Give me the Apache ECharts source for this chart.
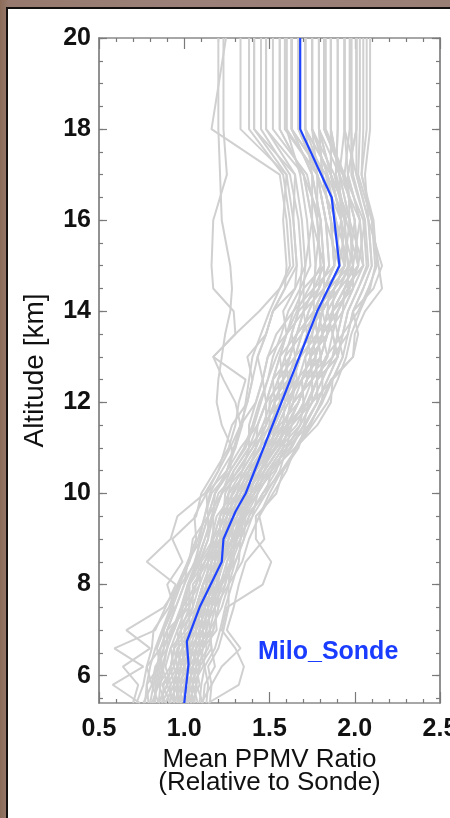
<!DOCTYPE html>
<html>
<head>
<meta charset="utf-8">
<script src="https://cdn.jsdelivr.net/npm/echarts@6/dist/echarts.min.js"></script>
<style>
html,body{margin:0;padding:0;width:450px;height:818px;overflow:hidden;}
body{background:linear-gradient(90deg,#8c6b58 0px,#977a6d 8px,#9b8178 40%,#9a7f75 100%);}
#panel{position:absolute;left:6px;top:7px;width:470px;height:840px;background:#fff;border-left:2px solid #141010;border-top:2px solid #141010;}
#chart{position:absolute;left:0;top:0;width:450px;height:818px;}
</style>
</head>
<body>
<div id="panel"></div>
<div id="chart"></div>
<script>
// Altitude levels (km) of the individual profiles
const ALT = [5.4,5.8,6.2,6.6,7.0,7.5,8.0,8.5,9.0,9.5,10.0,10.5,11.0,11.5,12.0,12.5,13.0,13.5,14.0,14.5,15.0,16.0,17.0,18.0,20.0];

// Individual profiles: mean PPMV ratio at each ALT level
const P01 = [.98,1.03,1.00,.99,1.07,1.10,1.19,1.20,1.24,1.33,1.35,1.42,1.47,1.53,1.59,1.64,1.68,1.78,1.76,1.82,1.94,1.86,1.81,1.71,1.71];
const P02 = [.89,.85,.92,.99,.98,1.03,1.03,1.12,1.21,1.21,1.26,1.29,1.38,1.48,1.53,1.52,1.62,1.66,1.70,1.70,1.82,1.80,1.70,1.56,1.56];
const P03 = [1.06,1.07,1.05,1.11,1.19,1.18,1.22,1.27,1.28,1.36,1.43,1.47,1.56,1.58,1.64,1.75,1.80,1.84,1.87,1.99,1.99,1.97,1.91,1.86,1.86];
const P04 = [.94,.98,.96,1.03,1.03,1.07,1.11,1.20,1.21,1.25,1.31,1.38,1.51,1.53,1.53,1.58,1.62,1.66,1.76,1.82,1.88,1.92,1.86,1.79,1.79];
const P05 = [1.02,.98,1.05,1.07,1.07,1.14,1.19,1.23,1.31,1.33,1.39,1.51,1.60,1.68,1.70,1.75,1.74,1.78,1.81,1.88,1.94,1.97,1.86,1.79,1.79];
const P06 = [.81,.85,.87,.86,.94,.99,1.07,1.09,1.14,1.17,1.18,1.25,1.33,1.43,1.48,1.46,1.49,1.54,1.64,1.70,1.71,1.69,1.65,1.41,1.41];
const P07 = [1.11,1.12,1.18,1.16,1.15,1.22,1.26,1.30,1.35,1.36,1.48,1.56,1.60,1.68,1.75,1.87,1.93,1.90,1.93,1.99,2.05,2.03,1.96,2.01,2.01];
const P08 = [.98,.94,1.00,1.07,1.11,1.10,1.15,1.16,1.24,1.29,1.39,1.47,1.56,1.63,1.75,1.75,1.74,1.84,1.81,1.88,1.94,1.92,1.91,1.86,1.86];
const P09 = [.89,.94,.92,.94,1.03,1.07,1.15,1.16,1.21,1.25,1.26,1.38,1.47,1.58,1.64,1.69,1.74,1.72,1.81,1.88,1.99,1.92,1.86,1.71,1.71];
const P10 = [1.02,1.07,1.09,1.07,1.11,1.18,1.19,1.20,1.28,1.33,1.43,1.51,1.65,1.73,1.81,1.81,1.87,1.96,1.99,2.05,2.10,2.08,2.01,1.94,1.94];
const P11 = [.76,.81,.78,.86,.90,.95,1.00,1.02,1.10,1.14,1.13,1.25,1.29,1.33,1.42,1.46,1.43,1.48,1.52,1.65,1.66,1.64,1.65,1.48,1.48];
const P12 = [1.02,1.03,1.09,1.03,1.11,1.14,1.15,1.23,1.28,1.29,1.35,1.42,1.51,1.58,1.59,1.69,1.80,1.78,1.87,1.94,1.99,2.03,1.91,1.79,1.79];
const P13 = [.94,.90,.92,.94,.98,.99,1.07,1.12,1.17,1.25,1.31,1.34,1.42,1.48,1.48,1.58,1.56,1.60,1.64,1.76,1.82,1.75,1.75,1.63,1.63];
const P14 = [1.11,1.07,1.09,1.16,1.15,1.18,1.26,1.27,1.31,1.40,1.48,1.51,1.60,1.63,1.75,1.81,1.87,1.90,1.93,1.94,2.05,2.03,1.96,1.94,1.94];
const P15 = [.98,.94,.96,1.03,1.07,1.07,1.11,1.16,1.17,1.21,1.31,1.42,1.51,1.58,1.64,1.64,1.68,1.78,1.76,1.76,1.88,1.86,1.81,1.63,1.63];
const P16 = [.85,.90,.87,.90,.90,1.03,1.03,1.09,1.17,1.17,1.22,1.34,1.42,1.43,1.48,1.52,1.56,1.66,1.70,1.76,1.77,1.75,1.70,1.56,1.56];
const P17 = [.98,.98,1.05,1.11,1.15,1.14,1.22,1.27,1.31,1.36,1.39,1.47,1.56,1.63,1.70,1.69,1.74,1.84,1.87,1.94,2.05,1.97,1.91,1.94,1.94];
const P18 = [.94,.98,1.00,1.03,1.03,1.10,1.15,1.20,1.24,1.29,1.35,1.38,1.47,1.53,1.53,1.64,1.68,1.72,1.76,1.88,1.94,1.92,1.81,1.79,1.79];
const P19 = [1.15,1.16,1.14,1.20,1.23,1.26,1.26,1.34,1.38,1.44,1.52,1.60,1.65,1.78,1.86,1.87,1.99,2.02,1.99,2.11,2.16,2.08,2.06,2.09,2.09];
const P20 = [.72,.76,.78,.81,.82,.91,.96,1.02,1.07,1.06,1.13,1.20,1.24,1.28,1.37,1.40,1.37,1.48,1.52,1.59,1.60,1.58,1.60,1.33,1.33];
const P21 = [.98,.98,1.00,.99,1.07,1.10,1.11,1.16,1.24,1.25,1.35,1.42,1.47,1.53,1.59,1.69,1.74,1.78,1.81,1.82,1.82,1.80,1.75,1.63,1.63];
const P22 = [1.06,1.03,1.05,1.07,1.11,1.10,1.19,1.23,1.28,1.29,1.35,1.47,1.56,1.68,1.75,1.81,1.80,1.84,1.93,1.99,1.99,1.97,1.96,2.01,2.01];
const P23 = [1.02,.98,1.05,1.07,1.15,1.14,1.15,1.20,1.21,1.29,1.39,1.47,1.51,1.58,1.64,1.75,1.87,1.90,1.87,1.88,1.94,1.92,1.86,1.86,1.86];
const P24 = [.85,.90,.96,.94,.98,1.07,1.11,1.16,1.17,1.21,1.26,1.34,1.38,1.43,1.48,1.52,1.56,1.60,1.70,1.76,1.77,1.80,1.75,1.71,1.71];
const P25 = [1.02,1.07,1.09,1.11,1.11,1.18,1.22,1.30,1.35,1.40,1.43,1.51,1.60,1.73,1.81,1.87,1.93,1.96,1.99,2.05,2.10,2.08,2.01,2.01,2.01];
const P26 = [.94,.94,1.00,1.03,1.03,1.03,1.07,1.12,1.21,1.25,1.31,1.38,1.47,1.53,1.59,1.58,1.68,1.72,1.70,1.82,1.88,1.86,1.81,1.79,1.79];
const P27 = [.98,.98,.96,.99,1.07,1.07,1.11,1.20,1.24,1.33,1.35,1.42,1.51,1.63,1.70,1.69,1.80,1.84,1.87,1.94,1.99,1.97,1.86,1.71,1.71];
const P28 = [.85,.81,.83,.90,.94,.99,1.03,1.09,1.14,1.14,1.22,1.29,1.38,1.38,1.42,1.46,1.49,1.60,1.58,1.65,1.71,1.75,1.70,1.48,1.48];
const P29 = [1.02,1.03,1.00,1.03,1.11,1.14,1.19,1.23,1.28,1.33,1.39,1.42,1.51,1.58,1.64,1.75,1.80,1.78,1.81,1.88,1.94,1.92,1.86,1.86,1.86];
const P30 = [.89,.94,.96,.99,1.03,1.07,1.11,1.20,1.24,1.29,1.31,1.38,1.42,1.48,1.53,1.58,1.62,1.66,1.76,1.82,1.88,1.86,1.81,1.63,1.63];
const P31 = [.85,.86,.88,.90,.93,.98,1.02,1.08,1.12,1.17,1.22,1.27,1.28,1.22,1.19,1.20,1.22,1.24,1.27,1.28,1.27,1.22,1.21,1.20,1.20];
const P32 = [.77,.78,.80,.83,.87,.92,.97,1.03,1.08,1.12,1.15,1.22,1.30,1.34,1.36,1.38,1.40,1.45,1.50,1.56,1.62,1.60,1.56,1.16,1.245];
const P33 = [.80,.82,.84,.86,.90,.95,1.00,1.06,1.10,1.14,1.18,1.25,1.30,1.33,1.30,1.23,1.17,1.30,1.29,1.17,1.16,1.17,1.25,1.23,1.23];
const P34 = [.74,.58,.76,.59,.83,.89,.95,.78,.92,.96,1.12,1.20,1.27,1.33,1.37,1.40,1.43,1.48,1.52,1.59,1.66,1.64,1.60,1.41,1.41];
const P35 = [1.14,1.32,1.35,1.30,1.22,1.25,1.46,1.51,1.42,1.42,1.54,1.58,1.66,1.74,1.80,1.86,1.99,2.00,2.06,2.16,2.14,2.10,2.04,2.07,2.07];
const P36 = [.96,.96,1.03,1.01,1.05,1.12,1.17,1.18,1.23,1.31,1.37,1.45,1.49,1.56,1.67,1.72,1.71,1.75,1.79,1.91,1.97,1.89,1.84,1.75,1.75];
const P37 = [.87,.88,.94,.97,.96,1.01,1.09,1.14,1.16,1.19,1.29,1.36,1.45,1.46,1.51,1.61,1.65,1.63,1.67,1.79,1.80,1.78,1.78,1.60,1.60];
const P38 = [1.04,1.01,1.03,1.09,1.13,1.12,1.21,1.25,1.30,1.35,1.41,1.49,1.58,1.61,1.67,1.72,1.84,1.87,1.84,1.91,2.02,2.00,1.94,1.83,1.83];
const P39 = [1.00,1.05,1.03,1.05,1.09,1.12,1.13,1.22,1.26,1.27,1.33,1.40,1.54,1.61,1.73,1.78,1.84,1.81,1.84,1.85,1.91,1.95,1.89,1.90,1.90];
const P40 = [.92,.92,.98,1.01,1.00,1.05,1.09,1.10,1.19,1.23,1.28,1.36,1.44,1.55,1.61,1.66,1.65,1.69,1.73,1.79,1.85,1.83,1.78,1.67,1.67];
const P41 = [1.09,1.10,1.12,1.09,1.17,1.20,1.24,1.25,1.33,1.38,1.46,1.54,1.58,1.71,1.78,1.78,1.90,1.93,1.96,2.02,2.08,2.06,1.99,1.98,1.98];
const P42 = [.83,.83,.85,.88,.92,1.01,1.02,1.07,1.12,1.16,1.20,1.32,1.40,1.46,1.56,1.61,1.59,1.63,1.67,1.68,1.74,1.72,1.68,1.60,1.60];
const P43 = [.96,1.00,1.02,1.05,1.09,1.08,1.17,1.21,1.29,1.34,1.37,1.40,1.49,1.50,1.56,1.66,1.77,1.81,1.90,1.96,1.96,1.94,1.88,1.75,1.75];
const P44 = [1.00,.96,.98,.96,1.05,1.12,1.17,1.22,1.26,1.31,1.37,1.44,1.53,1.60,1.62,1.67,1.71,1.81,1.90,1.97,2.02,2.00,1.93,1.82,1.82];
const P45 = [1.04,1.05,1.11,1.13,1.13,1.16,1.20,1.21,1.26,1.31,1.41,1.49,1.62,1.70,1.78,1.84,1.90,1.87,1.90,1.97,2.02,1.95,1.89,1.90,1.90];
const P46 = [.91,.96,.94,.92,1.01,1.09,1.13,1.18,1.22,1.27,1.33,1.40,1.49,1.55,1.61,1.61,1.65,1.75,1.78,1.85,1.91,1.89,1.83,1.67,1.67];
const P47 = [1.00,1.01,1.07,1.09,1.13,1.16,1.17,1.22,1.23,1.27,1.37,1.45,1.54,1.66,1.72,1.78,1.77,1.81,1.84,1.91,1.96,1.94,1.84,1.75,1.75];
const P48 = [1.13,1.14,1.12,1.18,1.21,1.24,1.28,1.32,1.33,1.38,1.46,1.58,1.67,1.71,1.78,1.84,1.90,1.93,2.02,2.08,2.13,2.11,2.04,2.05,2.05];
const P49 = [.79,.78,.85,.88,.88,.93,.98,1.07,1.09,1.12,1.16,1.27,1.36,1.41,1.45,1.49,1.52,1.57,1.61,1.68,1.69,1.67,1.62,1.45,1.45];
const P50 = [.96,.96,.98,1.05,1.09,1.12,1.17,1.18,1.19,1.23,1.33,1.40,1.49,1.60,1.67,1.72,1.77,1.75,1.78,1.85,1.91,1.83,1.78,1.59,1.59];
const P51 = [1.04,1.09,1.07,1.09,1.09,1.16,1.24,1.28,1.33,1.35,1.37,1.44,1.53,1.60,1.72,1.78,1.83,1.93,1.96,2.02,2.07,2.05,1.94,1.97,1.97];
const P52 = [.87,.92,.89,.92,.96,1.05,1.05,1.14,1.19,1.23,1.24,1.31,1.40,1.51,1.56,1.55,1.59,1.69,1.73,1.79,1.85,1.83,1.78,1.75,1.75];
const P53 = [1.00,1.00,1.02,1.05,1.09,1.12,1.13,1.18,1.26,1.31,1.41,1.49,1.58,1.61,1.67,1.72,1.77,1.81,1.79,1.85,1.97,2.00,1.93,1.82,1.82];
const P54 = [.92,.87,.94,.96,1.05,1.09,1.13,1.14,1.22,1.27,1.28,1.36,1.44,1.50,1.50,1.55,1.65,1.69,1.78,1.85,1.91,1.89,1.78,1.67,1.67];
const P55 = [1.08,1.05,1.07,1.14,1.17,1.20,1.20,1.29,1.29,1.34,1.41,1.53,1.63,1.70,1.73,1.78,1.90,1.87,1.90,1.96,2.02,2.06,1.98,1.98,1.98];
const P56 = [.70,.73,.64,.80,.66,.88,.97,1.03,1.05,1.14,1.18,1.27,1.35,1.40,1.44,1.49,1.54,1.60,1.66,1.73,1.80,1.78,1.72,1.52,1.52];
const P57 = [1.10,1.16,1.22,1.33,1.25,1.29,1.32,1.36,1.47,1.44,1.50,1.57,1.66,1.75,1.84,1.90,1.95,1.98,2.03,2.09,2.12,2.10,2.02,2.03,2.03];
const P58 = [.82,.84,.86,.84,.88,.94,.90,.99,.93,1.07,1.10,1.18,1.26,1.30,1.32,1.36,1.17,1.30,1.44,1.56,1.64,1.62,1.58,1.38,1.38];
const PROFILES = [P01,P02,P03,P04,P05,P06,P07,P08,P09,P10,P11,P12,P13,P14,P15,P16,P17,P18,P19,P20,
  P21,P22,P23,P24,P25,P26,P27,P28,P29,P30,P31,P32,P33,P34,P35,P36,P37,P38,P39,P40,
  P41,P42,P43,P44,P45,P46,P47,P48,P49,P50,P51,P52,P53,P54,P55,P56,P57,P58];

// Mean profile (blue)
const MEAN_ALT = [5.4,6.25,6.75,7.5,8.5,9.0,9.6,10.0,14.0,15.0,16.5,18.0,20.0];
const MEAN_VAL = [1.00,1.025,1.015,1.09,1.22,1.23,1.30,1.36,1.78,1.91,1.865,1.68,1.68];

// Axis ticks
const Y_MAJOR = [6,8,10,12,14,16,18,20];
const Y_MINOR = [5.5,6,6.5,7,7.5,8,8.5,9,9.5,10,10.5,11,11.5,12,12.5,13,13.5,14,14.5,15,15.5,16,16.5,17,17.5,18,18.5,19,19.5,20];

const FONT = "'Liberation Sans', Arial, Helvetica, sans-serif";
const AXIS_COLOR = '#8a8a8a';
const TICK_COLOR = '#7a7a7a';

const series = PROFILES.map(function (p, k) {
  return {
    type: 'line', xAxisIndex: 0, yAxisIndex: 0, name: 'p' + k,
    data: p.map(function (v, i) { return [v, ALT[i]]; }),
    showSymbol: false, symbol: 'none', silent: true, animation: false,
    lineStyle: { color: '#d0d0d0', width: 2 }, z: 2
  };
});
series.push({
  type: 'line', xAxisIndex: 0, yAxisIndex: 0, name: 'Milo_Sonde',
  data: MEAN_VAL.map(function (v, i) { return [v, MEAN_ALT[i]]; }),
  showSymbol: false, symbol: 'none', silent: true, animation: false,
  lineStyle: { color: '#1f44ff', width: 2.2 }, z: 5
});

function xAx(pos, main) {
  return {
    type: 'value', min: 0.5, max: 2.5, interval: 0.5, position: pos,
    axisLine: { show: true, onZero: false, lineStyle: { color: AXIS_COLOR, width: 1.5 } },
    axisTick: { show: true, inside: true, length: 11, lineStyle: { color: TICK_COLOR, width: 1.2 } },
    minorTick: { show: true, splitNumber: 5, length: 4, lineStyle: { color: TICK_COLOR, width: 1.2 } },
    splitLine: { show: false }, minorSplitLine: { show: false },
    axisLabel: main ? {
      show: true, margin: 14, color: '#111', fontSize: 25, fontWeight: 'bold', fontFamily: FONT,
      formatter: function (v) { return v.toFixed(1); }
    } : { show: false },
    name: main ? 'Mean PPMV Ratio\n(Relative to Sonde)' : '',
    nameLocation: 'middle', nameGap: 43,
    nameTextStyle: { color: '#111', fontSize: 26, lineHeight: 23, fontFamily: FONT }
  };
}
function yAx(pos, ticks, len, main) {
  return {
    type: 'value', min: 5.4, max: 20, position: pos,
    axisLine: { show: true, onZero: false, lineStyle: { color: AXIS_COLOR, width: 1.5 } },
    axisTick: { show: true, inside: true, length: len, customValues: ticks, lineStyle: { color: TICK_COLOR, width: 1.2 } },
    splitLine: { show: false },
    axisLabel: main ? {
      show: true, margin: 8, color: '#111', fontSize: 25, fontWeight: 'bold', fontFamily: FONT,
      customValues: Y_MAJOR
    } : { show: false },
    name: main ? 'Altitude [km]' : '',
    nameLocation: 'middle', nameGap: 50,
    nameTextStyle: { color: '#111', fontSize: 28, fontFamily: FONT }
  };
}

const chart = echarts.init(document.getElementById('chart'), null, { renderer: 'canvas' });
chart.setOption({
  backgroundColor: 'transparent',
  animation: false,
  grid: { left: 99, top: 38, right: 10, bottom: 115, containLabel: false, outerBoundsMode: 'none' },
  xAxis: [xAx('bottom', true), xAx('top', false)],
  yAxis: [yAx('left', Y_MAJOR, 8, true), yAx('left', Y_MINOR, 4, false), yAx('right', Y_MAJOR, 8, false), yAx('right', Y_MINOR, 4, false)],
  graphic: [{
    type: 'text', left: 258, top: 640, silent: true,
    style: { text: 'Milo_Sonde', fill: '#1a3cff', font: 'bold 25px ' + FONT }
  }],
  series: series
});
</script>
</body>
</html>
